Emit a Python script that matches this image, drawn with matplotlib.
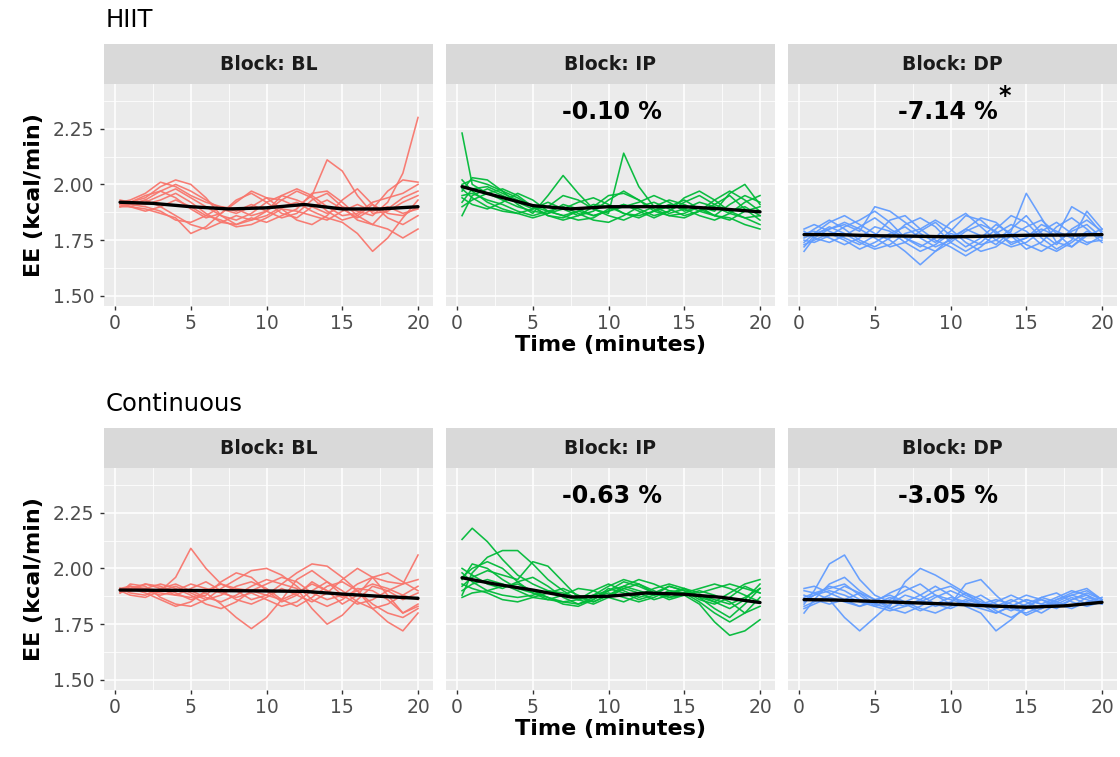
import numpy as np
import matplotlib
matplotlib.use("Agg")
import matplotlib.pyplot as plt
from matplotlib.ticker import MultipleLocator

plt.rcParams['font.family'] = ['DejaVu Sans']

# ---------------- data ----------------
minutes = [0.33, 1, 2, 3, 4, 5, 6, 7, 8, 9, 10, 11, 12, 13, 14, 15, 16, 17, 18, 19, 20]
smooth_minutes = [0.33, 2.5, 5, 7.5, 10, 12.5, 15, 17.5, 20]

groups = ["HIIT", "Continuous"]
blocks = ["BL", "IP", "DP"]
block_colors = ["#F8766D", "#00BA38", "#619CFF"]
annotations = {("HIIT", "IP"): "-0.10 %", ("HIIT", "DP"): "-7.14 %",
               ("Continuous", "IP"): "-0.63 %", ("Continuous", "DP"): "-3.05 %"}
significant = {("HIIT", "DP")}
y_ticks = [1.50, 1.75, 2.00, 2.25]
y_tick_labels = ["1.50", "1.75", "2.00", "2.25"]
x_ticks = [0, 5, 10, 15, 20]

hiit_bl = [
    [1.92,1.91,1.93,1.97,2.00,1.97,1.93,1.89,1.87,1.90,1.94,1.93,1.90,1.95,2.11,2.06,1.95,1.87,1.88,1.92,1.95],
    [1.91,1.90,1.92,1.95,1.98,1.94,1.90,1.86,1.84,1.87,1.92,1.95,1.93,1.90,1.87,1.90,1.88,1.86,1.92,2.05,2.30],
    [1.90,1.91,1.93,1.90,1.86,1.82,1.80,1.83,1.86,1.84,1.86,1.90,1.92,1.88,1.85,1.83,1.78,1.70,1.76,1.85,1.93],
    [1.92,1.93,1.96,2.01,1.99,1.95,1.92,1.90,1.88,1.91,1.88,1.85,1.87,1.93,1.96,1.90,1.84,1.82,1.80,1.76,1.80],
    [1.93,1.92,1.94,1.99,2.02,2.00,1.94,1.86,1.82,1.84,1.88,1.95,1.98,1.95,1.90,1.86,1.87,1.92,1.94,1.96,2.00],
    [1.90,1.90,1.89,1.87,1.85,1.78,1.81,1.87,1.92,1.97,1.94,1.89,1.84,1.82,1.86,1.93,1.98,1.91,1.87,1.86,1.90],
    [1.91,1.92,1.91,1.93,1.96,1.92,1.87,1.83,1.82,1.85,1.83,1.86,1.89,1.96,1.97,1.92,1.86,1.82,1.89,1.94,1.97],
    [1.92,1.90,1.88,1.90,1.93,1.90,1.86,1.84,1.81,1.82,1.85,1.89,1.88,1.86,1.84,1.88,1.91,1.88,1.90,1.87,1.89],
    [1.90,1.92,1.95,1.97,1.94,1.89,1.85,1.87,1.93,1.96,1.92,1.87,1.85,1.90,1.93,1.89,1.85,1.89,1.97,2.02,2.01],
    [1.91,1.91,1.90,1.88,1.84,1.83,1.86,1.90,1.89,1.86,1.88,1.93,1.97,1.94,1.88,1.84,1.86,1.91,1.85,1.82,1.86],
]
hiit_ip = [
    [2.23,2.00,1.96,1.93,1.90,1.88,1.87,1.91,1.89,1.86,1.88,1.91,1.89,1.86,1.88,1.92,1.95,1.91,1.88,1.90,1.86],
    [1.86,1.95,1.98,1.95,1.92,1.89,1.90,1.95,1.93,1.89,1.87,2.14,1.99,1.90,1.87,1.89,1.92,1.90,1.87,1.85,1.82],
    [1.97,2.03,2.02,1.97,1.91,1.87,1.95,2.04,1.96,1.89,1.86,1.84,1.87,1.90,1.93,1.91,1.88,1.86,1.91,1.95,1.92],
    [2.00,2.02,2.00,1.97,1.94,1.90,1.86,1.84,1.86,1.90,1.95,1.96,1.93,1.89,1.86,1.85,1.88,1.93,1.97,1.93,1.88],
    [1.95,1.96,1.93,1.91,1.88,1.86,1.88,1.90,1.87,1.84,1.83,1.86,1.90,1.92,1.89,1.86,1.88,1.91,1.95,1.89,1.84],
    [1.92,1.98,1.99,1.96,1.93,1.90,1.88,1.86,1.84,1.85,1.89,1.91,1.88,1.85,1.88,1.94,1.97,1.93,1.88,1.85,1.86],
    [1.98,1.94,1.90,1.88,1.87,1.89,1.92,1.89,1.86,1.88,1.93,1.97,1.93,1.88,1.86,1.87,1.90,1.86,1.84,1.88,1.90],
    [1.90,1.93,1.96,1.98,1.95,1.90,1.86,1.85,1.88,1.91,1.90,1.87,1.85,1.88,1.91,1.89,1.86,1.84,1.87,1.92,1.95],
    [1.94,1.91,1.89,1.92,1.96,1.93,1.88,1.86,1.88,1.86,1.88,1.90,1.92,1.95,1.92,1.88,1.90,1.88,1.96,2.00,1.91],
    [2.02,1.97,1.92,1.89,1.87,1.85,1.87,1.89,1.92,1.94,1.91,1.87,1.86,1.88,1.90,1.93,1.89,1.86,1.85,1.82,1.80],
]
hiit_dp = [
    [1.74,1.78,1.83,1.86,1.82,1.78,1.75,1.70,1.64,1.70,1.76,1.80,1.77,1.73,1.79,1.96,1.85,1.74,1.72,1.78,1.77],
    [1.70,1.76,1.80,1.82,1.79,1.90,1.88,1.83,1.78,1.74,1.79,1.86,1.84,1.78,1.74,1.76,1.80,1.77,1.90,1.86,1.78],
    [1.77,1.80,1.84,1.80,1.75,1.72,1.76,1.82,1.85,1.81,1.74,1.70,1.74,1.80,1.86,1.83,1.76,1.71,1.75,1.88,1.80],
    [1.80,1.82,1.79,1.76,1.73,1.77,1.84,1.86,1.80,1.75,1.72,1.68,1.72,1.78,1.82,1.79,1.73,1.70,1.74,1.79,1.76],
    [1.75,1.74,1.77,1.81,1.84,1.88,1.83,1.76,1.72,1.76,1.83,1.87,1.81,1.75,1.72,1.74,1.79,1.83,1.78,1.74,1.75],
    [1.72,1.77,1.81,1.78,1.74,1.71,1.73,1.78,1.80,1.84,1.80,1.74,1.70,1.72,1.77,1.81,1.84,1.78,1.72,1.77,1.80],
    [1.78,1.79,1.76,1.73,1.76,1.81,1.79,1.74,1.70,1.73,1.78,1.76,1.73,1.75,1.80,1.86,1.78,1.73,1.80,1.84,1.79],
    [1.76,1.78,1.80,1.83,1.80,1.76,1.72,1.74,1.79,1.83,1.77,1.72,1.76,1.82,1.78,1.73,1.70,1.74,1.79,1.82,1.76],
    [1.79,1.76,1.74,1.77,1.81,1.85,1.80,1.76,1.73,1.70,1.74,1.79,1.82,1.79,1.73,1.76,1.82,1.79,1.76,1.73,1.77],
    [1.73,1.75,1.78,1.75,1.71,1.74,1.78,1.81,1.76,1.72,1.75,1.80,1.85,1.83,1.77,1.71,1.74,1.81,1.85,1.80,1.74],
]
cont_bl = [
    [1.90,1.92,1.91,1.90,1.96,2.09,2.00,1.93,1.91,1.90,1.88,1.86,1.89,1.93,1.90,1.87,1.90,1.93,1.91,1.88,1.92],
    [1.89,1.93,1.92,1.87,1.84,1.83,1.86,1.91,1.95,1.99,2.00,1.97,1.92,1.86,1.83,1.86,1.91,1.90,1.86,1.80,1.84],
    [1.91,1.92,1.90,1.89,1.88,1.87,1.89,1.84,1.78,1.73,1.78,1.86,1.95,1.99,1.94,1.88,1.84,1.86,1.90,1.93,2.06],
    [1.90,1.90,1.93,1.92,1.89,1.86,1.88,1.94,1.98,1.96,1.90,1.85,1.88,1.94,1.90,1.84,1.88,1.96,1.98,1.94,1.90],
    [1.91,1.89,1.88,1.91,1.93,1.90,1.87,1.85,1.88,1.92,1.95,1.93,1.98,2.02,2.01,1.96,1.90,1.84,1.80,1.78,1.82],
    [1.90,1.91,1.89,1.86,1.83,1.85,1.90,1.93,1.90,1.86,1.88,1.93,1.91,1.82,1.75,1.79,1.86,1.92,1.90,1.86,1.89],
    [1.89,1.91,1.93,1.91,1.88,1.91,1.94,1.90,1.86,1.84,1.87,1.91,1.88,1.85,1.89,1.95,2.00,1.96,1.88,1.80,1.83],
    [1.90,1.88,1.87,1.90,1.92,1.89,1.86,1.88,1.92,1.94,1.91,1.86,1.83,1.87,1.92,1.94,1.90,1.82,1.76,1.72,1.80],
    [1.91,1.90,1.91,1.93,1.91,1.88,1.84,1.82,1.85,1.90,1.93,1.96,1.94,1.89,1.86,1.88,1.93,1.96,1.94,1.93,1.95],
    [1.90,1.92,1.90,1.88,1.90,1.93,1.91,1.89,1.87,1.89,1.86,1.83,1.85,1.90,1.94,1.90,1.85,1.82,1.84,1.88,1.86],
]
cont_ip = [
    [2.13,2.18,2.12,2.04,1.97,1.93,1.90,1.88,1.86,1.88,1.90,1.92,1.90,1.88,1.89,1.91,1.87,1.82,1.78,1.84,1.91],
    [1.88,1.98,2.05,2.08,2.08,2.02,1.95,1.90,1.86,1.84,1.87,1.91,1.93,1.90,1.87,1.88,1.84,1.76,1.70,1.72,1.77],
    [1.92,1.96,1.99,1.97,1.95,2.03,2.01,1.94,1.87,1.85,1.88,1.92,1.95,1.93,1.90,1.89,1.88,1.85,1.82,1.86,1.93],
    [1.95,2.02,2.00,1.95,1.91,1.89,1.87,1.85,1.84,1.86,1.90,1.94,1.92,1.89,1.87,1.89,1.91,1.93,1.91,1.88,1.85],
    [1.87,1.89,1.90,1.92,1.93,1.90,1.87,1.84,1.83,1.86,1.91,1.89,1.86,1.88,1.92,1.90,1.86,1.84,1.87,1.92,1.89],
    [1.98,1.94,1.90,1.88,1.87,1.88,1.90,1.89,1.86,1.88,1.92,1.95,1.93,1.89,1.86,1.88,1.90,1.88,1.85,1.80,1.83],
    [1.90,1.93,1.95,1.93,1.90,1.87,1.86,1.88,1.91,1.90,1.87,1.85,1.88,1.91,1.93,1.91,1.87,1.85,1.89,1.93,1.95],
    [2.00,1.97,1.93,1.91,1.94,1.96,1.92,1.87,1.84,1.87,1.89,1.87,1.85,1.87,1.90,1.89,1.85,1.80,1.76,1.80,1.87],
    [1.93,1.91,1.89,1.86,1.85,1.87,1.89,1.91,1.88,1.85,1.88,1.91,1.89,1.86,1.88,1.91,1.89,1.91,1.93,1.91,1.89],
    [1.96,2.00,2.03,2.00,1.94,1.89,1.86,1.85,1.86,1.90,1.93,1.90,1.87,1.89,1.92,1.90,1.88,1.86,1.84,1.87,1.91],
]
cont_dp = [
    [1.84,1.90,2.02,2.06,1.95,1.88,1.85,1.83,1.85,1.88,1.86,1.84,1.82,1.80,1.83,1.86,1.84,1.82,1.86,1.88,1.85],
    [1.90,1.89,1.86,1.78,1.72,1.78,1.84,1.88,1.86,1.83,1.85,1.89,1.86,1.81,1.78,1.82,1.87,1.85,1.83,1.87,1.85],
    [1.80,1.86,1.93,1.96,1.90,1.86,1.83,1.94,2.00,1.97,1.93,1.89,1.84,1.80,1.83,1.86,1.84,1.87,1.90,1.88,1.84],
    [1.86,1.88,1.90,1.88,1.85,1.83,1.86,1.90,1.93,1.88,1.84,1.93,1.95,1.88,1.82,1.80,1.83,1.86,1.89,1.91,1.86],
    [1.83,1.85,1.88,1.92,1.89,1.84,1.82,1.85,1.88,1.92,1.88,1.83,1.80,1.72,1.77,1.83,1.86,1.84,1.82,1.85,1.87],
    [1.88,1.86,1.84,1.86,1.89,1.86,1.82,1.80,1.83,1.87,1.90,1.87,1.84,1.86,1.84,1.79,1.82,1.86,1.88,1.86,1.84],
    [1.85,1.88,1.92,1.90,1.86,1.84,1.87,1.84,1.81,1.84,1.87,1.85,1.83,1.85,1.88,1.85,1.82,1.85,1.88,1.90,1.86],
    [1.91,1.92,1.89,1.86,1.83,1.85,1.89,1.92,1.88,1.84,1.82,1.85,1.88,1.84,1.81,1.84,1.87,1.89,1.85,1.83,1.85],
    [1.82,1.84,1.87,1.85,1.83,1.86,1.88,1.85,1.82,1.80,1.83,1.86,1.84,1.82,1.85,1.88,1.86,1.83,1.86,1.89,1.86],
    [1.87,1.89,1.91,1.93,1.88,1.83,1.81,1.83,1.86,1.90,1.92,1.88,1.85,1.83,1.86,1.83,1.80,1.84,1.87,1.84,1.86],
]

hiit_bl_mean = [1.920, 1.915, 1.900, 1.890, 1.895, 1.910, 1.890, 1.890, 1.900]
hiit_ip_mean = [1.990, 1.950, 1.905, 1.890, 1.900, 1.900, 1.900, 1.890, 1.877]
hiit_dp_mean = [1.775, 1.775, 1.770, 1.768, 1.765, 1.768, 1.772, 1.773, 1.775]
cont_bl_mean = [1.903, 1.902, 1.901, 1.900, 1.899, 1.897, 1.885, 1.875, 1.866]
cont_ip_mean = [1.958, 1.930, 1.903, 1.872, 1.875, 1.890, 1.884, 1.870, 1.847]
cont_dp_mean = [1.860, 1.858, 1.852, 1.846, 1.840, 1.832, 1.826, 1.832, 1.848]

subjects = {
    ("HIIT", "BL"): hiit_bl, ("HIIT", "IP"): hiit_ip, ("HIIT", "DP"): hiit_dp,
    ("Continuous", "BL"): cont_bl, ("Continuous", "IP"): cont_ip, ("Continuous", "DP"): cont_dp,
}
means = {
    ("HIIT", "BL"): hiit_bl_mean, ("HIIT", "IP"): hiit_ip_mean, ("HIIT", "DP"): hiit_dp_mean,
    ("Continuous", "BL"): cont_bl_mean, ("Continuous", "IP"): cont_ip_mean, ("Continuous", "DP"): cont_dp_mean,
}

# ---------------- layout ----------------
W, H = 1120, 757
fig = plt.figure(figsize=(W / 100, H / 100), dpi=100)
fig.patch.set_facecolor("white")

col_left = [104, 446, 788]
col_width = 329
row_top = [84, 468]
panel_h = 222
strip_h = 40

def frac(x, y, w, h):
    return [x / W, 1 - (y + h) / H, w / W, h / H]

for r, g in enumerate(groups):
    for c, b in enumerate(blocks):
        ax = fig.add_axes(frac(col_left[c], row_top[r], col_width, panel_h))
        ax.set_facecolor("#EBEBEB")
        for s in ax.spines.values():
            s.set_visible(False)
        ax.set_xlim(-0.73, 20.99)
        ax.set_ylim(1.455, 2.45)
        ax.set_xticks(x_ticks)
        ax.set_yticks(y_ticks)
        ax.xaxis.set_minor_locator(MultipleLocator(2.5))
        ax.set_yticks([1.625, 1.875, 2.125, 2.375], minor=True)
        ax.grid(which="major", color="white", linewidth=1.1)
        ax.grid(which="minor", color="white", linewidth=0.55)
        ax.set_axisbelow(True)
        ax.tick_params(which="major", length=3, width=1.0, color="#333333",
                       labelcolor="#4D4D4D", labelsize=13.5, pad=3)
        ax.tick_params(which="minor", length=0)
        ax.tick_params(axis="y", pad=4)
        ax.set_yticklabels(y_tick_labels)
        if c != 0:
            ax.tick_params(axis="y", labelleft=False, left=False)
        for series in subjects[(g, b)]:
            ax.plot(minutes, series, color=block_colors[c], linewidth=1.15, alpha=0.95)
        ax.plot(smooth_minutes, means[(g, b)], color="black", linewidth=2.4,
                solid_capstyle="round")
        key = (g, b)
        if key in annotations:
            xc = 10.2 if b == "IP" else 9.8
            ax.text(xc, 2.325, annotations[key], ha="center", va="center",
                    fontsize=17, fontweight="bold", color="black")
            if key in significant:
                ax.text(13.6, 2.395, "*", ha="center", va="center",
                        fontsize=17, fontweight="bold", color="black")
        if c == 0:
            ax.set_ylabel("EE (kcal/min)", fontsize=16, fontweight="bold",
                          color="black", labelpad=6)
        if c == 1:
            ax.set_xlabel("Time (minutes)", fontsize=16, fontweight="bold",
                          color="black", labelpad=1)

        sax = fig.add_axes(frac(col_left[c], row_top[r] - strip_h, col_width, strip_h))
        sax.set_facecolor("#D9D9D9")
        sax.set_xticks([]); sax.set_yticks([])
        for s in sax.spines.values():
            s.set_visible(False)
        sax.text(0.5, 0.5, "Block: " + b, ha="center", va="center",
                 fontsize=13.5, fontweight="bold", color="#1A1A1A",
                 transform=sax.transAxes)

    fig.text(106 / W, 1 - (20 + 384 * r) / H, g, ha="left", va="center",
             fontsize=17.5, color="black")

fig.savefig("out.png", dpi=100)
